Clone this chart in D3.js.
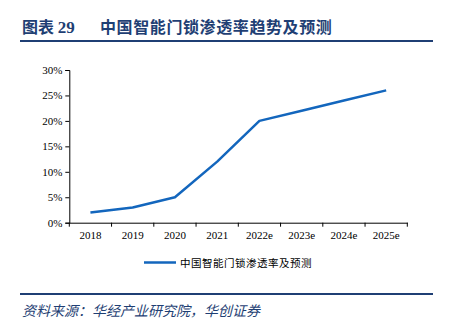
<!DOCTYPE html>
<html><head><meta charset="utf-8">
<script src="https://cdn.jsdelivr.net/npm/d3@7"></script>
<style>body{margin:0;background:#fff}</style>
</head><body>
<script>
const categories = ["2018","2019","2020","2021","2022e","2023e","2024e","2025e"];
const values = [0.02,0.03,0.05,0.12,0.20,0.22,0.24,0.26];
const yTicks = [0,0.05,0.10,0.15,0.20,0.25,0.30];
const seriesName = "中国智能门锁渗透率及预测";
const titleText = "图表 29";
const titleMain = "中国智能门锁渗透率趋势及预测";
const sourceText = "资料来源：华经产业研究院，华创证券";

const W=461,H=325;
const navy="#1f3f74", lineColor="#1366bd";
const svg=d3.select("body").append("svg").attr("width",W).attr("height",H);
const serif="'Liberation Serif','DejaVu Serif',serif";
const cjk="'Noto Sans CJK SC','Noto Sans',sans-serif";

// Title
const t=svg.append("text").attr("x",22).attr("y",33).attr("fill",navy)
  .attr("font-weight","bold").attr("font-size",16).attr("font-family",cjk);
t.append("tspan").text("图表 ");
t.append("tspan").attr("font-family",serif).attr("font-size",17).text("29");
t.append("tspan").attr("x",100).attr("letter-spacing",0.6).text(titleMain);
svg.append("line").attr("x1",20).attr("x2",433).attr("y1",41).attr("y2",41).attr("stroke",navy).attr("stroke-width",2);

const x=d3.scaleBand().domain(categories).range([69.3,407.3]);
const y=d3.scaleLinear().domain([0,0.30]).range([222.7,70]);

const yAxis=svg.append("g").attr("transform","translate(69.3,0)")
  .call(d3.axisLeft(y).tickValues(yTicks).tickFormat(d3.format(".0%")).tickSize(4).tickPadding(3));
const xAxis=svg.append("g").attr("transform","translate(0,222.7)")
  .call(d3.axisBottom(x).tickSize(0).tickPadding(9));
[yAxis,xAxis].forEach(g=>{
  g.select(".domain").attr("stroke","#000").attr("stroke-width",1);
  g.selectAll(".tick line").attr("stroke","#000");
  g.selectAll("text").attr("font-family",serif).attr("font-size",11).attr("fill","#000");
});
// x tick marks at band boundaries
const bounds=categories.map(c=>x(c)).concat([x(categories[categories.length-1])+x.bandwidth()]);
xAxis.selectAll(".bt").data(bounds).enter().append("line").attr("class","bt")
  .attr("x1",d=>d-0).attr("x2",d=>d).attr("y1",0).attr("y2",4).attr("stroke","#000");

const line=d3.line().x((d,i)=>x(categories[i])+x.bandwidth()/2).y(d=>y(d));
svg.append("path").datum(values).attr("d",line).attr("fill","none")
  .attr("stroke",lineColor).attr("stroke-width",2.5).attr("stroke-linejoin","round");

// Legend
svg.append("line").attr("x1",144).attr("x2",176).attr("y1",262.5).attr("y2",262.5).attr("stroke",lineColor).attr("stroke-width",2.5);
svg.append("text").attr("x",180).attr("y",266.5).attr("font-size",10.5).attr("letter-spacing",0.5)
  .attr("font-family",cjk).attr("fill","#000").text(seriesName);

// Source
svg.append("line").attr("x1",20).attr("x2",433).attr("y1",294).attr("y2",294).attr("stroke",navy).attr("stroke-width",2);
svg.append("text").attr("x",22).attr("y",316).attr("font-size",14).attr("font-style","italic")
  .attr("font-family",cjk).attr("fill",navy).attr("transform","").text(sourceText)
  .attr("transform","skewX(0)");
</script>
</body></html>
